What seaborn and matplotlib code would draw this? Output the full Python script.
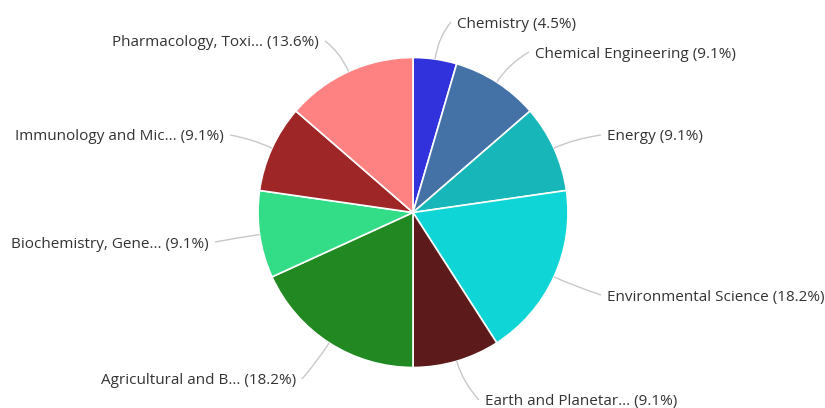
import numpy as np
import matplotlib
matplotlib.use("Agg")
import matplotlib.pyplot as plt
from matplotlib.path import Path
from matplotlib.patches import PathPatch
import seaborn as sns

categories = ["Chemistry", "Chemical Engineering", "Energy", "Environmental Science",
              "Earth and Planetar...", "Agricultural and B...", "Biochemistry, Gene...",
              "Immunology and Mic...", "Pharmacology, Toxi..."]
counts = [1, 2, 2, 4, 2, 4, 2, 2, 3]
colors = ["#3232DC", "#4472A7", "#17B7B9", "#0FD5D6", "#5C1A1A",
          "#228822", "#33DD88", "#9E2626", "#FF8282"]

# label anchor layout (pixels from top-left), side of alignment
label_pos = [(457, 22, "l"), (535, 52, "l"), (607, 135, "l"), (607, 295, "l"),
             (485, 400, "l"), (296, 379, "r"), (209, 242, "r"), (224, 135, "r"),
             (319, 41, "r")]

sns.set_theme(style="white")
plt.rcParams["font.family"] = ["Open Sans", "DejaVu Sans"]

W, H = 825, 408
fig = plt.figure(figsize=(W / 100, H / 100), dpi=100)
ax = fig.add_axes([0, 0, 1, 1])

cx, cy, r = 413, H - 212.5, 155
total = sum(counts)
wedges, _ = ax.pie(counts, colors=colors, startangle=90, counterclock=False,
                   center=(cx, cy), radius=r, frame=True,
                   wedgeprops=dict(edgecolor="white", linewidth=1.2))
ax.set_xlim(0, W)
ax.set_ylim(0, H)
ax.set_aspect("equal")
ax.axis("off")

for w, name, c, (lx, ly, side) in zip(wedges, categories, counts, label_pos):
    mid = np.deg2rad((w.theta1 + w.theta2) / 2)
    p0 = (cx + r * np.cos(mid), cy + r * np.sin(mid))
    p1 = (cx + (r + 22) * np.cos(mid), cy + (r + 22) * np.sin(mid))
    ly_up = H - ly
    ex = lx - 6 if side == "l" else lx + 6
    path = Path([p0, p1, (ex, ly_up)], [Path.MOVETO, Path.CURVE3, Path.CURVE3])
    ax.add_patch(PathPatch(path, fill=False, edgecolor="#c8c8c8", linewidth=1))
    pct = 100 * c / total
    ax.text(lx, ly_up - 2, f"{name} ({pct:.1f}%)", ha="left" if side == "l" else "right",
            va="center", fontsize=11, color="#333333")

fig.savefig("out.png", dpi=100)
